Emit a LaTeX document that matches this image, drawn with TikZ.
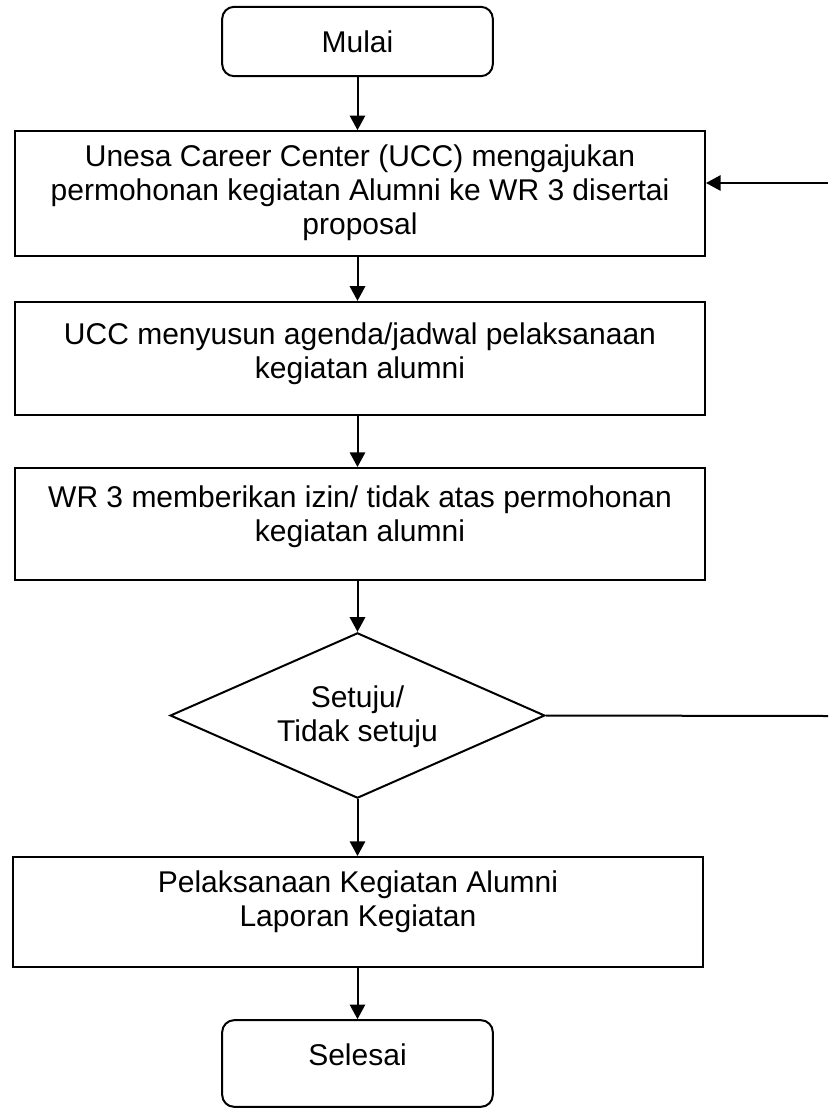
\documentclass[tikz,border=0pt]{standalone}
\usepackage{fontspec}
\setmainfont{Liberation Sans}
\usetikzlibrary{positioning, shapes.geometric, arrows.meta}

\begin{document}
\begin{tikzpicture}[x=0.75pt, y=-0.75pt,
	box/.style={draw, line width=1.5pt, rectangle, minimum width=517.5pt, inner sep=0pt},
	term/.style={draw, line width=1.5pt, rectangle, rounded corners=9pt, minimum width=203pt, minimum height=52pt, inner sep=0pt},
	dec/.style={draw, line width=1.5pt, diamond, minimum width=281pt, minimum height=124pt, inner sep=0pt, aspect=2.27},
	txt/.style={align=center, inner sep=0pt, font=\fontsize{22.5}{25.5}\selectfont},
	arr/.style={line width=1.5pt, -{Triangle[length=11pt, width=11.5pt]}}]
	
	\useasboundingbox (0,0) rectangle (828,1113);
	
	\node [term] (mulai) at (357.5,41.5) {};
	\node [txt] (tmulai) at (mulai) {Mulai};
	
	\node [box, minimum height=93.5pt] (ajuan) at (360,193.5) {};
	\node [txt, below=11pt of ajuan.north] (tajuan) {Unesa Career Center (UCC) mengajukan\\permohonan kegiatan Alumni ke WR 3 disertai\\proposal};
	
	\node [box, minimum height=85pt] (agenda) at (360,358.5) {};
	\node [txt, below=16pt of agenda.north] (tagenda) {UCC menyusun agenda/jadwal pelaksanaan\\kegiatan alumni};
	
	\node [box, minimum height=84pt] (izin) at (360,524) {};
	\node [txt, below=14pt of izin.north] (tizin) {WR 3 memberikan izin/ tidak atas permohonan\\kegiatan alumni};
	
	\node [dec] (setuju) at (357.5,715.5) {};
	\node [txt] (tsetuju) at ([yshift=-1pt]setuju.center) {Setuju/\\Tidak setuju};
	
	\node [box, minimum height=82.5pt] (laksana) at (358,912) {};
	\node [txt, below=11pt of laksana.north] (tlaksana) {Pelaksanaan Kegiatan Alumni\\Laporan Kegiatan};
	
	\node [term, minimum height=65pt] (selesai) at (357.5,1063.5) {};
	\node [txt, below=18pt of selesai.north] (tselesai) {Selesai};
	
	\coordinate (balik1) at (828,183);
	\coordinate (balik2) at (828,716);
	
	\draw [arr] (mulai.south) -- (mulai.south |- ajuan.north);
	\draw [arr] (mulai.south |- ajuan.south) -- (mulai.south |- agenda.north);
	\draw [arr] (mulai.south |- agenda.south) -- (mulai.south |- izin.north);
	\draw [arr] (setuju.north |- izin.south) -- (setuju.north);
	\draw [arr] (setuju.south) -- (setuju.south |- laksana.north);
	\draw [arr] (setuju.south |- laksana.south) -- (selesai.north);
	\draw [line width=1.5pt] (setuju.east) -- (balik2);
	\draw [arr] (balik1) -- (ajuan.east |- balik1);
	\end{tikzpicture}
\end{document}
